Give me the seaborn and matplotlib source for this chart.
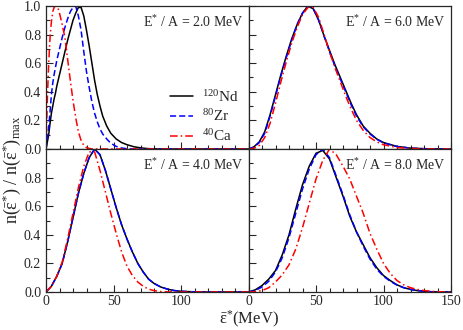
import numpy as np
import pandas as pd
import matplotlib
matplotlib.use('Agg')
import matplotlib.pyplot as plt
import seaborn as sns
from matplotlib.ticker import MultipleLocator

# Panel E*/A = 2.0 MeV
x_2 = [0, 1, 2, 3, 4, 5, 6, 7, 8, 9, 10, 12, 14, 16, 18, 20, 22, 24, 26, 28, 30, 32, 34, 36,
       38, 40, 42, 45, 48, 52, 56, 60, 65, 70, 75, 80, 90, 150]
nd_2 = [0, 0.05, 0.10, 0.18, 0.25, 0.30, 0.35, 0.39, 0.44, 0.48, 0.52, 0.60, 0.68, 0.76, 0.83, 0.90,
        0.95, 0.99, 0.99, 0.93, 0.83, 0.72, 0.60, 0.48, 0.38, 0.30, 0.23, 0.16, 0.11, 0.07, 0.045,
        0.03, 0.016, 0.008, 0.003, 0.001, 0, 0]
zr_2 = [0, 0.07, 0.15, 0.26, 0.38, 0.46, 0.52, 0.57, 0.62, 0.66, 0.70, 0.78, 0.85, 0.91, 0.96, 0.99,
        1.0, 0.93, 0.83, 0.68, 0.54, 0.43, 0.33, 0.25, 0.19, 0.14, 0.105, 0.07, 0.04, 0.018, 0.007,
        0.002, 0, 0, 0, 0, 0, 0]
ca_2 = [0, 0.35, 0.60, 0.78, 0.89, 0.96, 0.99, 1.0, 1.0, 0.98, 0.95, 0.87, 0.78, 0.63, 0.48, 0.34,
        0.22, 0.12, 0.06, 0.025, 0.01, 0.004, 0.001, 0, 0, 0, 0, 0, 0, 0, 0, 0, 0, 0, 0, 0, 0, 0]

# Panels E*/A = 4.0 and 6.0 MeV
x_46 = [0, 4, 8, 12, 16, 20, 24, 28, 32, 36, 40, 44, 48, 52, 56, 60, 64, 68, 72, 76, 80, 85, 90,
        95, 100, 110, 120, 130, 150]
nd_4 = [0, 0.04, 0.11, 0.20, 0.35, 0.52, 0.69, 0.83, 0.94, 1.0, 0.96, 0.85, 0.72, 0.59, 0.47, 0.37,
        0.28, 0.20, 0.14, 0.09, 0.06, 0.035, 0.02, 0.01, 0.005, 0.001, 0, 0, 0]
zr_4 = [0, 0.04, 0.11, 0.20, 0.35, 0.52, 0.69, 0.83, 0.94, 1.0, 0.96, 0.85, 0.72, 0.59, 0.47, 0.37,
        0.28, 0.20, 0.14, 0.09, 0.06, 0.035, 0.02, 0.01, 0.005, 0.001, 0, 0, 0]
ca_4 = [0, 0.04, 0.11, 0.21, 0.37, 0.55, 0.73, 0.88, 0.98, 0.98, 0.85, 0.70, 0.55, 0.41, 0.28, 0.18,
        0.115, 0.07, 0.04, 0.02, 0.01, 0.003, 0.001, 0, 0, 0, 0, 0, 0]

nd_6 = [0, 0.015, 0.05, 0.12, 0.24, 0.38, 0.52, 0.65, 0.77, 0.87, 0.95, 1.0, 0.98, 0.90, 0.79, 0.69,
        0.59, 0.50, 0.41, 0.32, 0.24, 0.16, 0.11, 0.07, 0.045, 0.018, 0.006, 0.002, 0]
zr_6 = [0, 0.012, 0.045, 0.11, 0.23, 0.37, 0.51, 0.64, 0.76, 0.87, 0.95, 1.0, 0.98, 0.90, 0.79, 0.68,
        0.58, 0.49, 0.40, 0.31, 0.23, 0.155, 0.105, 0.068, 0.043, 0.017, 0.006, 0.002, 0]
ca_6 = [0, 0.005, 0.025, 0.08, 0.18, 0.32, 0.47, 0.61, 0.74, 0.85, 0.94, 0.99, 0.99, 0.92, 0.80, 0.68,
        0.57, 0.47, 0.37, 0.28, 0.20, 0.13, 0.08, 0.05, 0.03, 0.01, 0.004, 0.001, 0]

# Panel E*/A = 8.0 MeV
x_8 = [0, 5, 10, 15, 20, 25, 30, 35, 40, 45, 50, 55, 60, 65, 70, 75, 80, 85, 90, 95, 100, 105,
       110, 115, 120, 125, 130, 135, 140, 145, 150]
nd_8 = [0, 0.015, 0.045, 0.09, 0.15, 0.26, 0.40, 0.58, 0.75, 0.88, 0.97, 0.99, 0.93, 0.80, 0.67,
        0.53, 0.42, 0.33, 0.24, 0.17, 0.115, 0.08, 0.05, 0.03, 0.018, 0.01, 0.005, 0.002, 0.001, 0, 0]
zr_8 = [0, 0.01, 0.035, 0.075, 0.14, 0.24, 0.38, 0.55, 0.72, 0.86, 0.96, 1.0, 0.94, 0.81, 0.68,
        0.54, 0.42, 0.32, 0.23, 0.16, 0.11, 0.075, 0.048, 0.03, 0.018, 0.01, 0.005, 0.002, 0.001, 0, 0]
ca_8 = [0, 0.002, 0.01, 0.03, 0.07, 0.12, 0.19, 0.30, 0.45, 0.62, 0.79, 0.92, 1.0, 0.96, 0.88,
        0.79, 0.67, 0.55, 0.41, 0.30, 0.20, 0.13, 0.08, 0.05, 0.03, 0.018, 0.01, 0.005, 0.002, 0.001, 0]

panel_labels = ['2.0', '6.0', '4.0', '8.0']
nuclei = [r'$^{120}$Nd', r'$^{80}$Zr', r'$^{40}$Ca']

panels = [
    (x_2, [nd_2, zr_2, ca_2]),
    (x_46, [nd_6, zr_6, ca_6]),
    (x_46, [nd_4, zr_4, ca_4]),
    (x_8, [nd_8, zr_8, ca_8]),
]

sns.set_style('ticks')
plt.rcParams['font.family'] = ['Liberation Serif', 'DejaVu Serif']
plt.rcParams['mathtext.fontset'] = 'custom'
plt.rcParams['mathtext.rm'] = 'Liberation Serif'
plt.rcParams['mathtext.it'] = 'Liberation Serif:italic'
plt.rcParams['mathtext.bf'] = 'Liberation Serif:bold'

line_styles = [
    dict(color='black', linestyle='-'),
    dict(color='blue', linestyle=(0, (4, 2))),
    dict(color='red', linestyle=(0, (5, 2, 1, 2))),
]

fig, axes = plt.subplots(2, 2, figsize=(4.63, 3.30), dpi=100)
fig.subplots_adjust(left=46 / 463, right=451 / 463, top=1 - 6 / 330, bottom=1 - 292 / 330,
                    wspace=0, hspace=0)

for i, ax in enumerate(axes.flat):
    xs, curves = panels[i]
    for name, ys, st in zip(nuclei, curves, line_styles):
        sns.lineplot(x=xs, y=ys, ax=ax, label=name if i == 0 else None, linewidth=1.1, **st)
    ax.set_xlim(0, 150)
    ax.set_ylim(0, 1.0)
    ax.xaxis.set_minor_locator(MultipleLocator(10))
    ax.yaxis.set_minor_locator(MultipleLocator(0.1))
    ax.tick_params(which='both', direction='in', top=False, right=False, labelsize=10)
    ax.tick_params(which='major', length=5, width=0.8)
    ax.tick_params(which='minor', length=3, width=0.8)
    ax.tick_params(axis='x', pad=2)
    for s in ax.spines.values():
        s.set_linewidth(0.9)
    ax.text(0.975, 0.89, r'E$^{*}$ / A = ' + panel_labels[i] + ' MeV', transform=ax.transAxes,
            ha='right', va='center', fontsize=10)
    ax.set_xlabel('')
    ax.set_ylabel('')

# tick labels only on outer panels
ax00, ax01, ax10, ax11 = axes.flat
for ax in (ax00, ax01):
    ax.set_xticks([0, 50, 100, 150])
    ax.set_xticklabels([])
for ax in (ax01, ax11):
    ax.set_yticks([0, 0.2, 0.4, 0.6, 0.8, 1.0])
    ax.set_yticklabels([])
ax00.set_yticks([0, 0.2, 0.4, 0.6, 0.8, 1.0])
ax00.set_yticklabels(['0.0', '0.2', '0.4', '0.6', '0.8', '1.0'])
ax10.set_yticks([0, 0.2, 0.4, 0.6, 0.8])
ax10.set_yticklabels(['0.0', '0.2', '0.4', '0.6', '0.8'])
ax10.set_xticks([0, 50, 100])
ax10.set_xticklabels(['0', '50', '100'])
ax11.set_xticks([0, 50, 100, 150])
ax11.set_xticklabels(['0', '50', '100', '150'])

leg = ax00.legend(loc='lower right', bbox_to_anchor=(1.0, -0.03), frameon=False, fontsize=11,
                  handlelength=1.5, labelspacing=0.25, handletextpad=0.6, borderaxespad=0.2)

fig.text(12 / 463, 1 - 170 / 330,
         r'n($\bar{\mathrm{\varepsilon}}^{*}$) / n($\bar{\mathrm{\varepsilon}}^{*}$)$_{\mathrm{max}}$',
         rotation=90, ha='center', va='center', fontsize=13)
fig.text(249 / 463, 1 - 319 / 330, r'$\bar{\mathrm{\varepsilon}}^{*}$(MeV)', ha='center',
         va='center', fontsize=12)

fig.savefig('out.png', dpi=100)
